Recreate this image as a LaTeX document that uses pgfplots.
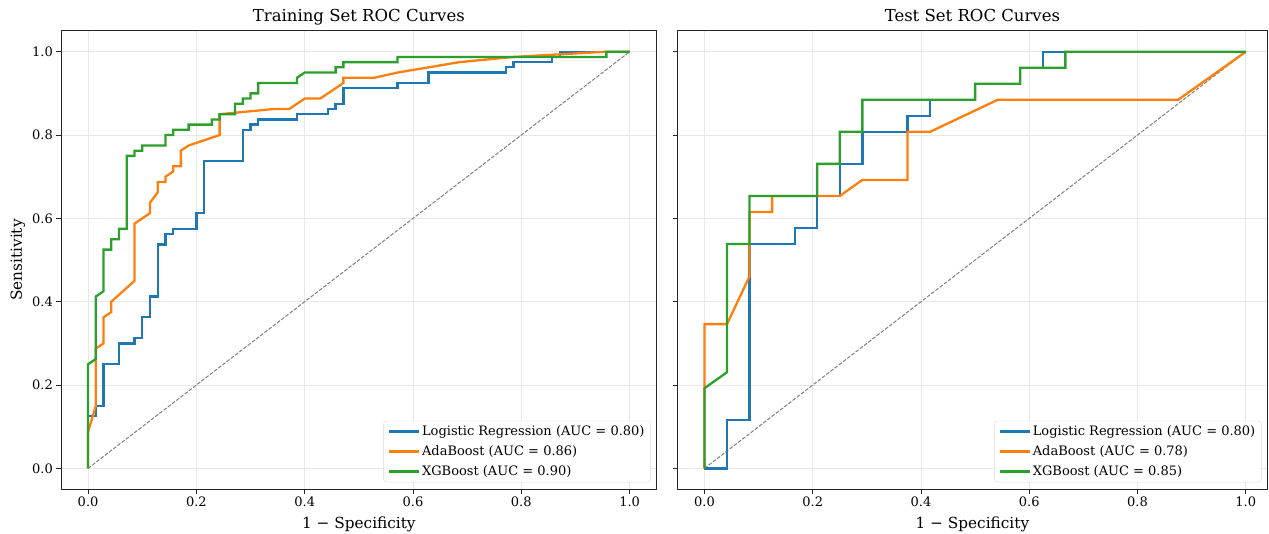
\documentclass[border=0pt]{standalone}
\usepackage{fontspec}
\setmainfont{DejaVu Serif}
\usepackage{pgfplots}
\pgfplotsset{compat=1.18}
\definecolor{c1}{HTML}{1F77B4}
\definecolor{c2}{HTML}{FF7F0E}
\definecolor{c3}{HTML}{2CA02C}
\pgfplotsset{rocax/.style={
  scale only axis, height=458.3pt,
  ymin=-0.05, ymax=1.05,
  xtick={0,0.2,0.4,0.6,0.8,1}, ytick={0,0.2,0.4,0.6,0.8,1},
  xticklabels={0.0,0.2,0.4,0.6,0.8,1.0},
  /pgf/number format/assume math mode=true,
  tick align=outside, tick pos=left, major tick length=4.6pt,
  grid=major, grid style={color=black!9, line width=0.8pt},
  axis line style={black!85, line width=0.9pt},
  tick style={black!85, line width=0.9pt},
  ticklabel style={font=\fontsize{13}{15}\selectfont},
  title style={font=\fontsize{16.5}{19}\selectfont, at={(0.5,1)}, anchor=base, yshift=3pt},
  label style={font=\fontsize{15.3}{18}\selectfont},
  xlabel style={yshift=-3pt},
  legend cell align=left,
  legend style={at={(rel axis cs:0.99,0.015)}, anchor=south east,
    draw=black!15, rounded corners=3pt, fill=white,
    font=\fontsize{13}{15}\selectfont, row sep=4.5pt,
    inner xsep=4pt, inner ysep=3pt},
  legend image code/.code={\draw[##1,line width=2.4pt] (0pt,0pt) -- (30pt,0pt);},
}}
\begin{document}
\begin{tikzpicture}
\useasboundingbox (-61pt,-44.8pt) rectangle (1208pt,489.2pt);
\begin{axis}[rocax, at={(0pt,0pt)}, anchor=south west,
  width=595.7pt, xmin=-0.05, xmax=1.05,
  yticklabels={0.0,0.2,0.4,0.6,0.8,1.0},
  title={Training Set ROC Curves},
  xlabel={1 − Specificity}, ylabel={Sensitivity}]
\addplot[gray, dash pattern=on 3.7pt off 1.6pt, line width=1pt, forget plot] coordinates {(0,0)(1,1)};
\addplot[c1, line width=2.3pt] coordinates {
(0,0)(0,0.125)(0.0143,0.125)(0.0143,0.15)(0.0286,0.15)(0.0286,0.25)(0.0571,0.25)(0.0571,0.3)(0.0857,0.3)(0.0857,0.3125)(0.1,0.3125)(0.1,0.3625)(0.1143,0.3625)(0.1143,0.4125)(0.1286,0.4125)(0.1286,0.5375)(0.1429,0.5375)(0.1429,0.5625)(0.1571,0.5625)(0.1571,0.575)(0.2,0.575)(0.2,0.6125)(0.2143,0.6125)(0.2143,0.7375)(0.2857,0.7375)(0.2857,0.8125)(0.3,0.8125)(0.3,0.825)(0.3143,0.825)(0.3143,0.8375)(0.3857,0.8375)(0.3857,0.85)(0.4429,0.85)(0.4429,0.8625)(0.4571,0.8625)(0.4571,0.875)(0.4714,0.875)(0.4714,0.9125)(0.5714,0.9125)(0.5714,0.925)(0.6286,0.925)(0.6286,0.95)(0.7714,0.95)(0.7714,0.9625)(0.7857,0.9625)(0.7857,0.975)(0.8571,0.975)(0.8571,0.9875)(0.8714,0.9875)(0.8714,1)(1,1)};
\addlegendentry{Logistic Regression (AUC = 0.80)}
\addplot[c2, line width=2.3pt] coordinates {
(0,0)(0,0.0875)(0.0143,0.15)(0.0143,0.2875)(0.0286,0.3)(0.0286,0.3625)(0.0429,0.375)(0.0429,0.4)(0.0857,0.45)(0.0857,0.5875)(0.1143,0.6125)(0.1143,0.6375)(0.1286,0.6625)(0.1286,0.6875)(0.1429,0.6875)(0.1429,0.7)(0.1571,0.7125)(0.1571,0.725)(0.1714,0.725)(0.1714,0.7625)(0.1857,0.775)(0.2429,0.8)(0.2429,0.85)(0.3429,0.8625)(0.3714,0.8625)(0.4,0.8875)(0.4286,0.8875)(0.4714,0.925)(0.4714,0.9375)(0.5286,0.9375)(0.5714,0.95)(0.6857,0.975)(0.7857,0.9875)(0.9571,1)(1,1)};
\addlegendentry{AdaBoost (AUC = 0.86)}
\addplot[c3, line width=2.3pt] coordinates {
(0,0)(0,0.25)(0.0143,0.2625)(0.0143,0.4125)(0.0286,0.425)(0.0286,0.525)(0.0429,0.525)(0.0429,0.55)(0.0571,0.55)(0.0571,0.575)(0.0714,0.575)(0.0714,0.75)(0.0857,0.75)(0.0857,0.7625)(0.1,0.7625)(0.1,0.775)(0.1429,0.775)(0.1429,0.8)(0.1571,0.8)(0.1571,0.8125)(0.1857,0.8125)(0.1857,0.825)(0.2286,0.825)(0.2286,0.8375)(0.2429,0.8375)(0.2429,0.85)(0.2714,0.85)(0.2714,0.875)(0.2857,0.875)(0.2857,0.8875)(0.3,0.8875)(0.3,0.9)(0.3143,0.9)(0.3143,0.925)(0.3857,0.925)(0.3857,0.9375)(0.4,0.95)(0.4571,0.95)(0.4571,0.9625)(0.4714,0.9625)(0.4714,0.975)(0.5714,0.975)(0.5714,0.9875)(0.9571,0.9875)(0.9571,1)(1,1)};
\addlegendentry{XGBoost (AUC = 0.90)}
\end{axis}
\begin{axis}[rocax, at={(616.4pt,0pt)}, anchor=south west,
  width=590pt, xmin=-0.05, xmax=1.04,
  yticklabels={},
  title={Test Set ROC Curves},
  xlabel={1 − Specificity}]
\addplot[gray, dash pattern=on 3.7pt off 1.6pt, line width=1pt, forget plot] coordinates {(0,0)(1,1)};
\addplot[c1, line width=2.3pt] coordinates {
(0,0)(0.0417,0)(0.0417,0.1154)(0.0833,0.1154)(0.0833,0.5385)(0.1667,0.5385)(0.1667,0.5769)(0.2083,0.5769)(0.2083,0.6538)(0.25,0.6538)(0.25,0.7308)(0.2917,0.7308)(0.2917,0.8077)(0.375,0.8077)(0.375,0.8462)(0.4167,0.8462)(0.4167,0.8846)(0.5,0.8846)(0.5,0.9231)(0.5833,0.9231)(0.5833,0.9615)(0.625,0.9615)(0.625,1)(1,1)};
\addlegendentry{Logistic Regression (AUC = 0.80)}
\addplot[c2, line width=2.3pt] coordinates {
(0,0)(0,0.3462)(0.0417,0.3462)(0.0833,0.4615)(0.0833,0.6154)(0.125,0.6154)(0.125,0.6538)(0.25,0.6538)(0.2917,0.6923)(0.375,0.6923)(0.375,0.8077)(0.4167,0.8077)(0.5417,0.8846)(0.875,0.8846)(1,1)};
\addlegendentry{AdaBoost (AUC = 0.78)}
\addplot[c3, line width=2.3pt] coordinates {
(0,0)(0,0.1923)(0.0417,0.2308)(0.0417,0.5385)(0.0833,0.5385)(0.0833,0.6538)(0.2083,0.6538)(0.2083,0.7308)(0.25,0.7308)(0.25,0.8077)(0.2917,0.8077)(0.2917,0.8846)(0.5,0.8846)(0.5,0.9231)(0.5833,0.9231)(0.5833,0.9615)(0.6667,0.9615)(0.6667,1)(1,1)};
\addlegendentry{XGBoost (AUC = 0.85)}
\end{axis}
\end{tikzpicture}
\end{document}
